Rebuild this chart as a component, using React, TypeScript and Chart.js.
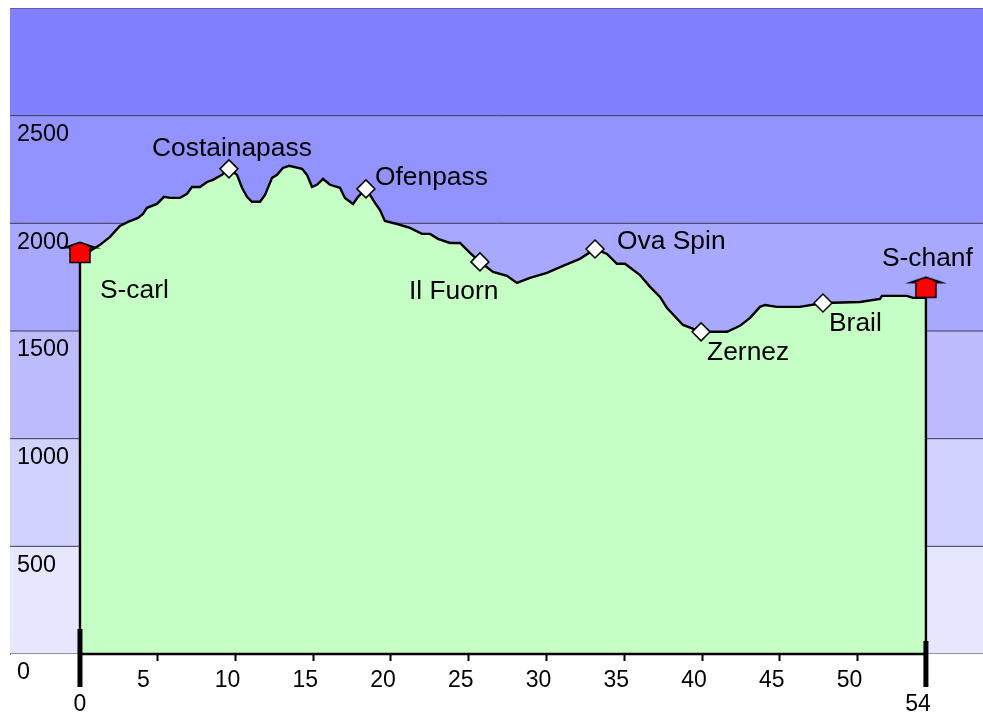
import { useEffect, useRef } from "react";
import { Chart, registerables } from "chart.js";

Chart.register(...registerables);

const FONT = "Liberation Sans, Arial, sans-serif";

const profileKm = [0, 0.26, 0.77, 1.29, 1.93, 2.57, 3.09, 3.73, 4.05, 4.31, 4.95, 5.4, 5.79, 6.43, 6.88, 7.2, 7.72, 8.17, 8.55, 9.13, 9.58, 10.1, 10.42, 10.74, 11.06, 11.58, 11.9, 12.35, 12.67, 13.05, 13.44, 14.28, 14.6, 14.92, 15.24, 15.63, 16.08, 16.72, 17.04, 17.56, 17.88, 18.39, 18.65, 18.97, 19.29, 19.61, 20.39, 21.22, 21.99, 22.51, 23.02, 23.79, 24.44, 25.08, 25.72, 26.56, 27.46, 28.1, 28.94, 30.03, 31.06, 32.15, 33.12, 33.89, 34.53, 35.05, 36.01, 36.66, 37.3, 37.75, 38.78, 39.94, 40.96, 41.61, 42.44, 43.09, 43.73, 44.05, 44.82, 46.3, 47.78, 50.16, 51.45, 51.57, 53.18, 53.57, 54.4];
const profileElevation = [1816, 1849, 1877, 1900, 1937, 1988, 2007, 2025, 2044, 2072, 2090, 2123, 2118, 2118, 2137, 2169, 2169, 2192, 2202, 2225, 2253, 2225, 2165, 2123, 2100, 2100, 2132, 2211, 2225, 2257, 2267, 2253, 2225, 2169, 2179, 2206, 2179, 2165, 2118, 2090, 2123, 2160, 2132, 2095, 2062, 2011, 1997, 1979, 1951, 1951, 1928, 1909, 1909, 1863, 1821, 1774, 1756, 1723, 1747, 1770, 1802, 1835, 1881, 1858, 1812, 1812, 1760, 1705, 1658, 1607, 1528, 1496, 1496, 1496, 1524, 1561, 1612, 1621, 1612, 1612, 1630, 1635, 1649, 1663, 1663, 1654, 1654];

const passNames = ["Costainapass", "Ofenpass", "Il Fuorn", "Ova Spin", "Zernez", "Brail"];
const passKm = [9.58, 18.39, 25.72, 33.12, 39.94, 47.78];
const passElevation = [2253, 2160, 1821, 1881, 1496, 1630];

const townNames = ["S-carl", "S-chanf"];
const townKm = [0, 54.4];
const townElevation = [1816, 1654];

const bandTops = [3000, 2500, 2000, 1500, 1000, 500, 0];
const bandColors = ["#8080ff", "#9393ff", "#a8a8ff", "#bcbcff", "#d2d2ff", "#e6e6ff", "#e6e6ff"];

const xTickValues = [5, 10, 15, 20, 25, 30, 35, 40, 45, 50];
const yTickValues = [0, 500, 1000, 1500, 2000, 2500];
const endLabels = ["0", "54"];

// Label placement in pixels relative to each mark (style, not data).
const passLabelShift = [[-77, -20], [9, -11], [-71, 30], [22, -7], [6, 21], [6, 21]];
const townLabelShift = [[20, 28], [-44, -39]];
const endBarTop = [116, 60];
const endBarBottom = -153;

const X_MIN = -4.5;
const X_MAX = 58.07;

function houseIcon(): HTMLCanvasElement {
  const c = document.createElement("canvas");
  c.width = 44;
  c.height = 46;
  const g = c.getContext("2d")!;
  g.fillStyle = "#000";
  g.beginPath();
  g.moveTo(1, 8.5);
  g.lineTo(22, 1.5);
  g.lineTo(43, 8.5);
  g.closePath();
  g.fill();
  g.fillStyle = "#ff0000";
  g.beginPath();
  g.moveTo(12, 8.5);
  g.lineTo(16, 5);
  g.lineTo(22, 3.5);
  g.lineTo(28, 5);
  g.lineTo(32, 8.5);
  g.closePath();
  g.fill();
  g.fillRect(12, 7, 20, 15);
  g.strokeStyle = "#000";
  g.lineWidth = 1.5;
  g.beginPath();
  g.moveTo(12, 8);
  g.lineTo(12, 22.5);
  g.lineTo(32, 22.5);
  g.lineTo(32, 8);
  g.stroke();
  return c;
}

const textPlugin = {
  id: "placeText",
  afterDatasetsDraw(chart: any) {
    const { ctx, scales } = chart;
    const x = scales.x;
    const y = scales.y;
    ctx.save();
    ctx.fillStyle = "#000";
    ctx.textBaseline = "middle";
    ctx.textAlign = "left";
    ctx.font = `26.4px ${FONT}`;
    passNames.forEach((name, i) => {
      ctx.fillText(
        name,
        x.getPixelForValue(passKm[i]) + passLabelShift[i][0],
        y.getPixelForValue(passElevation[i]) + passLabelShift[i][1]
      );
    });
    townNames.forEach((name, i) => {
      ctx.fillText(
        name,
        x.getPixelForValue(townKm[i]) + townLabelShift[i][0],
        y.getPixelForValue(townElevation[i]) + townLabelShift[i][1]
      );
    });
    ctx.textAlign = "center";
    ctx.font = `23px ${FONT}`;
    ctx.fillText(endLabels[0], x.getPixelForValue(townKm[0]), 705);
    ctx.fillText(endLabels[1], x.getPixelForValue(townKm[1]) - 8, 705);
    ctx.restore();
  },
};

export default function App() {
  const ref = useRef<HTMLCanvasElement>(null);

  useEffect(() => {
    const bandSets = bandTops.map((top, i) => ({
      type: "line" as const,
      data: [
        { x: X_MIN, y: top },
        { x: X_MAX, y: top },
      ],
      borderColor: "#3a3a5a",
      borderWidth: 1,
      backgroundColor: bandColors[i],
      fill: "origin",
      pointRadius: 0,
      order: 100 - i,
    }));

    const profile = [
      { x: profileKm[0], y: 0 },
      ...profileKm.map((km, i) => ({ x: km, y: profileElevation[i] })),
      { x: profileKm[profileKm.length - 1], y: 0 },
    ];

    const chart = new Chart(ref.current!, {
      type: "line",
      data: {
        datasets: [
          ...bandSets,
          {
            data: profile,
            borderColor: "#000",
            borderWidth: 2.4,
            backgroundColor: "#c6ffc6",
            fill: "origin",
            pointRadius: 0,
            tension: 0,
            order: 10,
          },
          {
            data: [
              { x: townKm[0], y: 0 },
              { x: townKm[1], y: 0 },
            ],
            borderColor: "#000",
            borderWidth: 2.4,
            pointRadius: 0,
            fill: false,
            clip: false,
            order: 9,
          },
          ...townKm.map((km, i) => ({
            data: [
              { x: km, y: endBarTop[i] },
              { x: km, y: endBarBottom },
            ],
            borderColor: "#000",
            borderWidth: 5,
            pointRadius: 0,
            fill: false,
            clip: false,
            order: 5,
          })),
          {
            data: passKm.map((km, i) => ({ x: km, y: passElevation[i] })),
            showLine: false,
            pointStyle: "rectRot",
            pointRadius: 9,
            pointBackgroundColor: "#fff",
            pointBorderColor: "#000",
            pointBorderWidth: 1.5,
            order: 2,
          },
          {
            data: townKm.map((km, i) => ({ x: km, y: townElevation[i] })),
            showLine: false,
            pointStyle: houseIcon(),
            clip: false,
            order: 1,
          },
        ] as any,
      },
      plugins: [textPlugin],
      options: {
        animation: false,
        responsive: false,
        layout: { autoPadding: false, padding: { left: 10, top: 8, right: 0, bottom: 0 } },
        plugins: { legend: { display: false }, tooltip: { enabled: false } },
        scales: {
          x: {
            type: "linear",
            min: X_MIN,
            max: X_MAX,
            grid: { display: true, drawOnChartArea: false, drawTicks: true, tickLength: 7, tickColor: "#000", tickWidth: 2 },
            border: { display: false },
            afterBuildTicks(scale: any) {
              scale.ticks = xTickValues.map((value) => ({ value }));
            },
            afterFit(scale: any) {
              scale.height = 61;
              scale.paddingLeft = 0;
              scale.paddingRight = 0;
            },
            ticks: {
              autoSkip: false,
              maxRotation: 0,
              labelOffset: -8,
              padding: 6,
              color: "#000",
              font: { family: FONT, size: 23 },
              callback: (v: any) => (v === 5 ? "5  " : String(v)),
            },
          },
          y: {
            type: "linear",
            min: 0,
            max: 3000,
            grid: { display: false, drawTicks: false },
            border: { display: true, color: "#77778a", width: 1 },
            afterBuildTicks(scale: any) {
              scale.ticks = yTickValues.map((value) => ({ value }));
            },
            afterFit(scale: any) {
              scale.width = 0;
              scale.paddingTop = 0;
              scale.paddingBottom = 0;
            },
            ticks: {
              z: 1,
              mirror: true,
              padding: 7,
              labelOffset: 19,
              color: "#000",
              font: { family: FONT, size: 23.4 },
              callback: (v: any) => String(v),
            },
          },
        },
      } as any,
    });
    return () => chart.destroy();
  }, []);

  return (
    <canvas
      ref={ref}
      width={983}
      height={715}
      style={{ position: "fixed", left: 0, top: 0, width: 983, height: 715, display: "block" }}
    />
  );
}
